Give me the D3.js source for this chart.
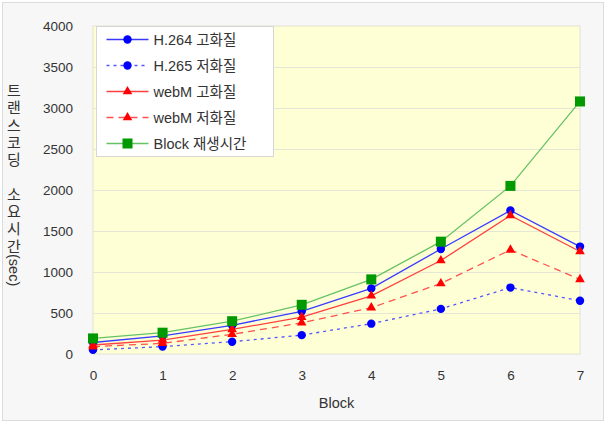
<!DOCTYPE html>
<html>
<head>
<meta charset="utf-8">
<script src="https://cdn.jsdelivr.net/npm/d3@7"></script>
<style>
  body { margin: 0; background: #fff; }
  svg { display: block; font-family: Arial, "Liberation Sans", "Noto Sans CJK KR", sans-serif; }
</style>
</head>
<body>
<div id="chart"></div>
<script>
const blocks = [0, 1, 2, 3, 4, 5, 6, 7];
const h264High = [140, 220, 350, 520, 800, 1280, 1750, 1310];
const h265Low = [50, 90, 150, 230, 370, 550, 810, 650];
const webmHigh = [110, 170, 300, 450, 710, 1140, 1690, 1250];
const webmLow = [90, 130, 240, 380, 565, 860, 1270, 910];
const blockPlay = [190, 260, 400, 600, 910, 1370, 2050, 3080];
const yTicks = [0, 500, 1000, 1500, 2000, 2500, 3000, 3500, 4000];

const series = [
  { name: "H.264 고화질", values: h264High, line: "#3a3aff", fill: "#0000ff", dash: null, marker: "circle" },
  { name: "H.265 저화질", values: h265Low, line: "#5555ff", fill: "#0000ff", dash: "3,4", marker: "circle" },
  { name: "webM 고화질", values: webmHigh, line: "#ff4040", fill: "#ff0000", dash: null, marker: "triangle" },
  { name: "webM 저화질", values: webmLow, line: "#ff5050", fill: "#ff0000", dash: "7,5", marker: "triangle" },
  { name: "Block 재생시간", values: blockPlay, line: "#66c266", fill: "#009900", dash: null, marker: "square" }
];

const W = 606, H = 428;
const margin = { top: 26, right: 26, bottom: 74, left: 93 };

const svg = d3.select("#chart").append("svg")
  .attr("width", W)
  .attr("height", H);

// outer frame
svg.append("rect")
  .attr("x", 2.5).attr("y", 2.5)
  .attr("width", W - 5).attr("height", 418)
  .attr("fill", "#f7f7f7")
  .attr("stroke", "#dcdcdc");

const x = d3.scaleLinear().domain([0, 7]).range([margin.left, W - margin.right]);
const y = d3.scaleLinear().domain([0, 4000]).range([354, margin.top]);

// plot background
svg.append("rect")
  .attr("x", x(0)).attr("y", y(4000))
  .attr("width", x(7) - x(0)).attr("height", y(0) - y(4000))
  .attr("fill", "#ffffd6")
  .attr("stroke", "#e2e2d4");

// gridlines
svg.append("g")
  .selectAll("line")
  .data(yTicks.slice(1, -1))
  .join("line")
  .attr("x1", x(0)).attr("x2", x(7))
  .attr("y1", d => y(d) + 0.5).attr("y2", d => y(d) + 0.5)
  .attr("stroke", "#e6e6d6");

// y axis
const yAxis = svg.append("g")
  .attr("transform", `translate(${x(0) - 20},0)`)
  .call(d3.axisLeft(y).tickValues(yTicks).tickFormat(d3.format("d")).tickSize(0).tickPadding(0));
yAxis.select(".domain").remove();
yAxis.selectAll("text").attr("font-size", 13.5).attr("fill", "#333");

// x axis
const xAxis = svg.append("g")
  .attr("transform", `translate(0,${y(0) + 16})`)
  .call(d3.axisBottom(x).tickValues(blocks).tickFormat(d3.format("d")).tickSize(0).tickPadding(0));
xAxis.select(".domain").remove();
xAxis.selectAll("text").attr("font-size", 13.5).attr("fill", "#333");

// x title
svg.append("text")
  .attr("x", (x(0) + x(7)) / 2).attr("y", 408)
  .attr("text-anchor", "middle")
  .attr("font-size", 14.5).attr("fill", "#333")
  .text("Block");

// y title: stacked Korean glyphs, then rotated (sec)
const yTitleChars = ["트", "랜", "스", "코", "딩", "", "소", "요", "시", "간"];
const yTitle = svg.append("g").attr("fill", "#333").attr("font-size", 15);
yTitle.selectAll("text")
  .data(yTitleChars)
  .join("text")
  .attr("x", 14)
  .attr("y", (d, i) => 96 + i * 17.3)
  .attr("text-anchor", "middle")
  .text(d => d);
yTitle.append("text")
  .attr("transform", `translate(9,254) rotate(90)`)
  .attr("font-size", 14.5)
  .text("(sec)");

const line = d3.line()
  .x((d, i) => x(blocks[i]))
  .y(d => y(d));

function drawMarker(g, type, color) {
  if (type === "circle") {
    g.append("circle").attr("r", 4.2).attr("fill", color);
  } else if (type === "triangle") {
    g.append("path").attr("d", d3.symbol(d3.symbolTriangle, 40)()).attr("fill", color);
  } else {
    g.append("rect").attr("x", -5).attr("y", -5).attr("width", 10).attr("height", 10).attr("fill", color);
  }
}

series.forEach(s => {
  svg.append("path")
    .datum(s.values)
    .attr("d", line)
    .attr("fill", "none")
    .attr("stroke", s.line)
    .attr("stroke-width", 1.3)
    .attr("stroke-dasharray", s.dash);
});

series.forEach(s => {
  s.values.forEach((v, i) => {
    const g = svg.append("g").attr("transform", `translate(${x(blocks[i])},${y(v)})`);
    drawMarker(g, s.marker, s.fill);
  });
});

// legend
const legend = svg.append("g").attr("transform", "translate(96.5,26.5)");
legend.append("rect")
  .attr("width", 177).attr("height", 130)
  .attr("fill", "#fff")
  .attr("stroke", "#d6d6d6");

series.forEach((s, i) => {
  const row = legend.append("g").attr("transform", `translate(0,${13 + i * 26})`);
  row.append("line")
    .attr("x1", 10).attr("x2", 52)
    .attr("stroke", s.line)
    .attr("stroke-width", 1.3)
    .attr("stroke-dasharray", s.dash);
  const m = row.append("g").attr("transform", "translate(31,0)");
  drawMarker(m, s.marker, s.fill);
  row.append("text")
    .attr("x", 57).attr("y", 0)
    .attr("dy", "0.35em")
    .attr("font-size", 14.5)
    .attr("fill", "#333")
    .text(s.name);
});
</script>
</body>
</html>
